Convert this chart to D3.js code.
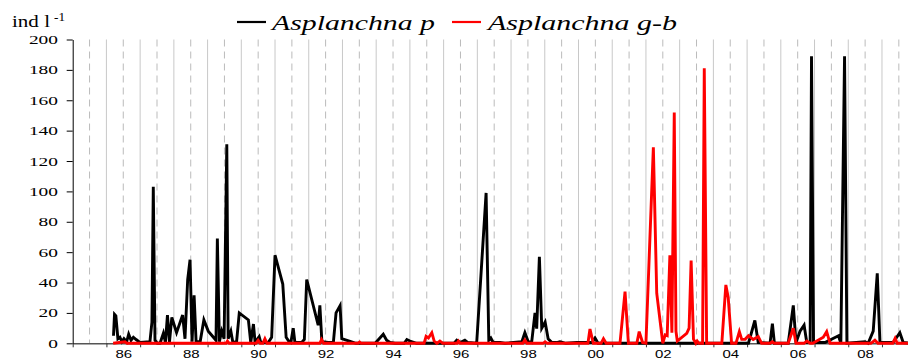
<!DOCTYPE html>
<html>
<head>
<meta charset="utf-8">
<script src="https://cdn.jsdelivr.net/npm/d3@7/dist/d3.min.js"></script>
<style>
  body { margin: 0; background: #fff; }
</style>
</head>
<body>
<svg width="908" height="361"></svg>
<script>
// Asplanchna p (black) - decimal year / ind l-1
var aspPYears = [1986.21,1986.24,1986.28,1986.34,1986.40,1986.46,1986.52,1986.60,1986.66,1986.73,1986.80,1986.88,
  1987.00,1987.29,1987.35,1987.39,1987.44,1987.51,1987.59,1987.69,1987.75,1987.81,1987.87,1987.94,
  1988.08,1988.26,1988.33,1988.41,1988.48,1988.54,1988.60,1988.66,1988.78,1988.89,
  1989.02,1989.25,1989.29,1989.35,1989.42,1989.49,1989.57,1989.61,1989.69,1989.75,1989.86,1989.94,
  1990.21,1990.28,1990.36,1990.41,1990.53,1990.58,1990.80,1990.90,
  1991.00,1991.23,1991.33,1991.42,1991.47,1991.54,1991.59,1991.79,1991.87,1991.94,
  1992.28,1992.33,1992.39,1992.58,1992.73,1992.81,1992.93,1992.98,
  1993.27,1993.40,1993.97,1994.21,1994.31,1994.41,1994.56,1994.83,1994.91,1995.00,1995.20,
  1996.31,1996.39,1996.49,1996.63,1996.72,1996.98,
  1997.26,1997.34,1997.40,1997.47,1997.67,1997.82,
  1998.32,1998.41,1998.51,1998.61,1998.71,1998.76,1998.84,1998.91,
  1999.01,1999.10,1999.21,1999.35,1999.45,1999.63,1999.95,
  2000.29,2000.40,2000.49,2000.58,2003.00,
  2005.04,2005.23,2005.33,2005.68,2005.75,2005.81,
  2006.22,2006.37,2006.45,2006.57,2006.69,2006.77,2006.87,2006.91,2006.97,
  2007.31,2007.71,2007.78,2007.89,2007.96,
  2008.50,2008.59,2008.74,2008.86,2008.94,
  2009.33,2009.53,2009.63,2009.83];
var aspPValues = [5,19,18,3,4,1,3,1,6,2,4,2.5,
  0.5,1,14,103,2,0,0,6.6,0.5,18.6,1,17,
  7,18.6,3,42,55,1,31.6,1,1,15.4,
  8,2,69,1,8,3,131,3,8,0.5,1,20,
  15.4,0.5,12.7,0.5,4.4,0.5,0.5,4,
  58,39,4,1,0.5,10,0.5,0.5,2.5,42,
  12,25,1,0.5,0.5,20,24.8,3,
  1,0,0,6,2,0.5,0,0,2.5,1.5,0,
  0,2,0.5,2,0.5,0,
  99,2,3.5,0.5,0.5,0,
  1,7,1,0.5,20,9.6,57,10,
  14,3,0.5,0.5,1,0,0.5,
  0.5,0.5,3.5,0,0,
  0,15,0.5,0,13,0,
  0,25,0.5,8,12,0.5,0.5,189,0.5,
  0.5,5,0,189,0,
  1,0,8,46,0.5,
  0.5,7,0.5,0];

// Asplanchna g-b (red)
var aspGbYears = [1986.20,1986.55,1986.61,1989.55,1989.59,1989.64,1990.44,1990.50,1990.56,1990.64,1990.70,1990.76,
  1992.33,1992.38,1992.44,1993.46,1993.51,1993.55,
  1995.42,1995.48,1995.55,1995.65,1995.72,1995.80,1995.89,1995.98,1996.40,1996.44,1996.49,
  1998.35,1998.41,1998.47,1998.95,1999.01,1999.07,
  2000.28,2000.34,2000.44,2000.67,2000.74,2000.82,
  2001.23,2001.38,2001.48,2001.73,2001.80,2001.90,
  2002.00,2002.22,2002.32,2002.50,2002.57,2002.63,2002.71,2002.77,2002.84,2002.89,2002.93,
  2003.21,2003.28,2003.34,2003.41,2003.48,2003.52,2003.57,2003.68,2003.73,2003.80,
  2004.25,2004.37,2004.44,2004.54,2004.67,2004.77,2004.84,2004.94,
  2005.04,2005.18,2005.33,2005.43,2005.68,2005.75,2005.81,
  2006.22,2006.37,2006.45,2006.69,2006.77,2006.87,2006.95,
  2007.26,2007.36,2007.46,2008.67,2008.79,2008.88,
  2009.32,2009.39,2009.45,2009.83];
var aspGbValues = [0,1,0,0,1.5,0,0,2,0,0,3,0,
  0,2.5,0,0,0.8,0,
  0,4.6,3.5,7,1.5,0,1.5,0,0,1.5,0,
  0,2.2,0,0,1,0,
  0,9.4,0,0,3,0,
  0,34,0,0,7.7,0.5,
  0,129,33,0,5.5,5,58,7,152,8,1.5,
  6.6,10,54.5,2.7,0,1.5,0,0,181,0,
  0,38.4,30,0,0,7.7,2.6,2.6,
  5,2.5,4.4,0,0,1,0,
  0,9.9,0,0,1.5,0,0,
  4,7.7,0,0,2,0,
  0,3.3,0,0];

var yTicks = [0,20,40,60,80,100,120,140,160,180,200];
var labelYears = [1986,1988,1990,1992,1994,1996,1998,2000,2002,2004,2006,2008];
var xTickLabels = ["86","88","90","92","94","96","98","00","02","04","06","08"];
var seriesNames = ["Asplanchna p", "Asplanchna g-b"];

var SERIF = "'Liberation Serif', 'Times New Roman', serif",
    SANS = "'Liberation Sans', Arial, sans-serif";

var svg = d3.select("svg"),
    x = d3.scaleLinear().domain([1985, 2010]).range([72.7, 915.7]),
    y = d3.scaleLinear().domain([0, 200]).range([343.3, 39.5]);

var yearBounds = d3.range(1986, 2010),
    midYears = d3.range(1985.5, 2010, 1);

// grid
svg.append("g").selectAll("line")
    .data(yearBounds)
    .enter().append("line")
    .attr("x1", function(d) { return x(d); })
    .attr("x2", function(d) { return x(d); })
    .attr("y1", y(200))
    .attr("y2", y(0))
    .attr("stroke", "#c8c8c8")
    .attr("stroke-width", 1);

svg.append("g").selectAll("line")
    .data(midYears)
    .enter().append("line")
    .attr("x1", function(d) { return x(d); })
    .attr("x2", function(d) { return x(d); })
    .attr("y1", y(200))
    .attr("y2", y(0))
    .attr("stroke", "#bbbbbb")
    .attr("stroke-width", 1)
    .attr("stroke-dasharray", "7,5");

// x axis (ticks at year boundaries)
var gx = svg.append("g")
    .attr("transform", "translate(0," + y(0) + ")")
    .call(d3.axisBottom(x).tickValues(d3.range(1985, 2010)).tickSize(4).tickSizeOuter(0).tickFormat(""));
gx.select(".domain").attr("stroke", "#555").attr("stroke-width", 1.5);
gx.selectAll(".tick line").attr("stroke", "#333");

var gxl = svg.append("g")
    .attr("transform", "translate(0," + y(0) + ")")
    .call(d3.axisBottom(x)
        .tickValues(labelYears.map(function(d) { return d + 0.5; }))
        .tickSize(0)
        .tickPadding(7.4)
        .tickFormat(function(d, i) { return xTickLabels[i]; }));
gxl.select(".domain").remove();
gxl.selectAll("text")
    .style("font-family", SANS)
    .style("font-size", "10px")
    .attr("fill", "#000")
    .attr("transform", "scale(1.5,1)");

// y axis
var gy = svg.append("g")
    .attr("transform", "translate(" + x(1985) + ",0)")
    .call(d3.axisLeft(y).tickValues(yTicks).tickSize(6).tickSizeOuter(0));
gy.select(".domain").attr("stroke", "#000");
gy.selectAll(".tick line").attr("stroke", "#000");
gy.selectAll("text")
    .attr("x", -9.5)
    .style("font-family", SERIF)
    .style("font-size", "12.5px")
    .attr("fill", "#000")
    .attr("transform", "scale(1.55,1)");

// unit label
svg.append("text")
    .attr("x", 12).attr("y", 27)
    .style("font-family", SERIF)
    .style("font-size", "17px")
    .attr("textLength", 38).attr("lengthAdjust", "spacingAndGlyphs")
    .text("ind l");
svg.append("text")
    .attr("x", 54).attr("y", 20.5)
    .style("font-family", SERIF)
    .style("font-size", "11.5px")
    .attr("textLength", 11).attr("lengthAdjust", "spacingAndGlyphs")
    .text("-1");

// lines
var line = d3.line()
    .x(function(d) { return x(d[0]); })
    .y(function(d) { return y(d[1]); });

svg.append("path")
    .datum(d3.zip(aspPYears, aspPValues))
    .attr("fill", "none")
    .attr("stroke", "#000")
    .attr("stroke-width", 2.9)
    .attr("d", line);

svg.append("path")
    .datum(d3.zip(aspGbYears, aspGbValues))
    .attr("fill", "none")
    .attr("stroke", "#ff0000")
    .attr("stroke-width", 2.9)
    .attr("d", line);

// legend
var legend = [
  {name: seriesNames[0], color: "#000", lx: 237, tx: 272, tw: 163},
  {name: seriesNames[1], color: "#ff0000", lx: 452, tx: 488, tw: 189}
];
legend.forEach(function(l) {
  svg.append("line")
      .attr("x1", l.lx).attr("x2", l.lx + 29)
      .attr("y1", 22).attr("y2", 22)
      .attr("stroke", l.color).attr("stroke-width", 2.2);
  svg.append("text")
      .attr("x", l.tx).attr("y", 30)
      .style("font-family", SERIF)
      .style("font-style", "italic")
      .style("font-size", "22px")
      .attr("textLength", l.tw).attr("lengthAdjust", "spacingAndGlyphs")
      .text(l.name);
});
</script>
</body>
</html>
